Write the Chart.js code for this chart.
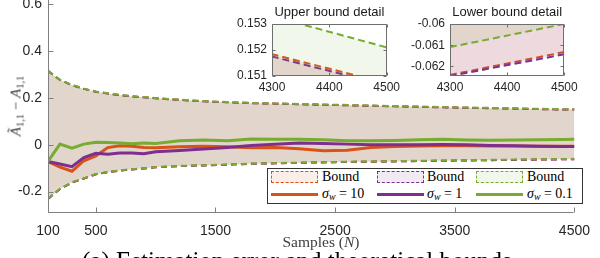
<!DOCTYPE html>
<html>
<head>
<meta charset="utf-8">
<script src="https://cdn.jsdelivr.net/npm/chart.js@4.4.1/dist/chart.umd.min.js"></script>
<style>
  html, body { margin: 0; padding: 0; background: #fff; }
  #wrap { position: relative; width: 600px; height: 258px; overflow: hidden; }
  canvas { position: absolute; }
  #main { left: 0; top: -10px; }
  #in1 { left: 220px; top: 0; }
  #in2 { left: 398px; top: 0; }
  .lab { position: absolute; white-space: nowrap; font-family: 'Liberation Serif', serif; color: #404040; }
  #ylab { left: 16px; top: 106px; font-size: 15px; transform: translate(-50%, -50%) rotate(-90deg); }
  #xlab { left: 321px; top: 242px; font-size: 15.5px; transform: translate(-50%, -50%); }
  #caption { left: 82px; top: 248px; font-size: 25px; line-height: 25px; color: #000; }
  sub { font-size: 70%; vertical-align: -0.25em; line-height: 0; }
  #legend { position: absolute; left: 267px; top: 168px; width: 316px; height: 36px; box-sizing: border-box;
            border: 1px solid #333; background: #fff; font-family: 'Liberation Serif', serif; font-size: 14px; color: #000; }
  .patch { position: absolute; top: 2px; width: 47px; height: 12px; box-sizing: border-box; border-width: 1.5px; border-style: dashed; }
  .ln { position: absolute; top: 23.5px; width: 47px; height: 3px; }
  .txt { position: absolute; line-height: 16px; white-space: nowrap; }
</style>
</head>
<body>
<div id="wrap">
  <canvas id="main" width="600" height="268"></canvas>
  <canvas id="in1" width="186" height="100"></canvas>
  <canvas id="in2" width="186" height="100"></canvas>
  <div class="lab" id="ylab"><i>Ã</i><sub>1,1</sub> − <i>A</i><sub>1,1</sub></div>
  <div class="lab" id="xlab">Samples (<i>N</i>)</div>
  <div class="lab" id="caption">(a) Estimation error and theoretical bounds</div>
  <div id="legend">
    <div class="patch" style="left:3px;border-color:#D95319;background:rgba(217,83,25,0.1)"></div>
    <div class="txt" style="left:54px;top:0px">Bound</div>
    <div class="ln" style="left:3px;background:#D95319"></div>
    <div class="txt" style="left:54px;top:17px"><i>σ</i><sub><i>w</i></sub> = 10</div>
    <div class="patch" style="left:109px;border-color:#7E2F8E;background:rgba(126,47,142,0.1)"></div>
    <div class="txt" style="left:159px;top:0px">Bound</div>
    <div class="ln" style="left:109px;background:#7E2F8E"></div>
    <div class="txt" style="left:159px;top:17px"><i>σ</i><sub><i>w</i></sub> = 1</div>
    <div class="patch" style="left:208px;border-color:#77AC30;background:rgba(119,172,48,0.1)"></div>
    <div class="txt" style="left:259px;top:0px">Bound</div>
    <div class="ln" style="left:208px;background:#77AC30"></div>
    <div class="txt" style="left:259px;top:17px"><i>σ</i><sub><i>w</i></sub> = 0.1</div>
  </div>
</div>
<script>
// bound curves
const boundN = [100, 200, 300, 400, 500, 600, 700, 800, 900, 1000, 1200, 1400, 1600, 1800, 2000, 2500, 3000, 3500, 4000, 4300, 4500];
const upperOrange = [0.316, 0.277, 0.255, 0.239, 0.227, 0.219, 0.212, 0.207, 0.203, 0.199, 0.192, 0.186, 0.182, 0.178, 0.176, 0.170, 0.1645, 0.1592, 0.1547, 0.15184, 0.15072];
const lowerOrange = [-0.231, -0.189, -0.161, -0.144, -0.126, -0.117, -0.110, -0.105, -0.101, -0.096, -0.091, -0.088, -0.085, -0.081, -0.079, -0.074, -0.0707, -0.0673, -0.0643, -0.0624, -0.06132];
const upperPurple = [0.316, 0.277, 0.255, 0.239, 0.227, 0.219, 0.212, 0.207, 0.203, 0.199, 0.192, 0.186, 0.182, 0.178, 0.176, 0.170, 0.1644, 0.1591, 0.1546, 0.15175, 0.15064];
const lowerPurple = [-0.231, -0.189, -0.161, -0.144, -0.126, -0.117, -0.110, -0.105, -0.101, -0.096, -0.091, -0.088, -0.085, -0.081, -0.079, -0.074, -0.0708, -0.0674, -0.0644, -0.06245, -0.06143];
const upperGreen = [0.316, 0.278, 0.256, 0.240, 0.228, 0.220, 0.213, 0.208, 0.204, 0.200, 0.193, 0.187, 0.183, 0.179, 0.177, 0.1715, 0.1658, 0.1605, 0.1560, 0.1533, 0.1521];
const lowerGreen = [-0.230, -0.188, -0.160, -0.143, -0.125, -0.116, -0.109, -0.104, -0.100, -0.095, -0.090, -0.087, -0.084, -0.080, -0.078, -0.073, -0.0695, -0.0660, -0.0630, -0.06109, -0.0600];

// estimation error
const estN = [100, 200, 300, 400, 500, 600, 700, 800, 900, 1000, 1200, 1400, 1600, 1800, 2000, 2200, 2400, 2600, 2800, 3000, 3200, 3400, 3600, 3800, 4000, 4200, 4400, 4500];
const estOrange = [-0.072, -0.095, -0.113, -0.068, -0.047, -0.012, -0.004, -0.006, -0.011, -0.013, -0.008, -0.006, -0.008, -0.013, -0.011, -0.017, -0.025, -0.023, -0.011, -0.007, -0.005, -0.004, -0.004, -0.005, -0.005, -0.006, -0.006, -0.006];
const estPurple = [-0.071, -0.082, -0.093, -0.054, -0.036, -0.040, -0.035, -0.035, -0.038, -0.030, -0.024, -0.018, -0.011, -0.003, 0.002, 0.008, 0.006, 0.003, 0.000, 0.000, 0.000, 0.001, 0.000, -0.003, -0.004, -0.006, -0.007, -0.007];
const estGreen = [-0.071, 0.003, -0.014, 0.003, 0.011, 0.010, 0.008, 0.005, 0.008, 0.006, 0.017, 0.021, 0.017, 0.025, 0.024, 0.024, 0.022, 0.017, 0.017, 0.019, 0.022, 0.024, 0.021, 0.020, 0.021, 0.022, 0.023, 0.024];

const mainXTicks = [100, 500, 1500, 2500, 3500, 4500];
const mainYTicks = [0.6, 0.4, 0.2, 0, -0.2];
const insetXTicks = [4300, 4400, 4500];
const upperYTicks = [0.151, 0.152, 0.153];
const lowerYTicks = [-0.062, -0.061, -0.06];

const ORANGE = '#D95319', PURPLE = '#7E2F8E', GREEN = '#77AC30';
const SANS = "'Liberation Sans', Arial, sans-serif";
const TICK = '#262626';

function pts(xs, ys) {
    return xs.map((x, i) => ({ x: x, y: ys[i] }));
}

// three shaded bound bands, orange drawn first, green last
function boundSets(dash, width) {
    const list = [[upperOrange, lowerOrange, ORANGE], [upperPurple, lowerPurple, PURPLE], [upperGreen, lowerGreen, GREEN]];
    const out = [];
    list.forEach(([u, l, c], k) => {
        out.push({ data: pts(boundN, u), borderColor: c, borderDash: dash, borderWidth: width,
                   fill: '+1', backgroundColor: c + '1A', pointRadius: 0, order: 20 - 2 * k });
        out.push({ data: pts(boundN, l), borderColor: c, borderDash: dash, borderWidth: width,
                   fill: false, pointRadius: 0, order: 19 - 2 * k });
    });
    return out;
}

// MATLAB style axes: lines + inward ticks
const axesIn = {
    id: 'axesIn',
    afterDatasetsDraw(chart, args, o) {
        const { ctx, chartArea: a, scales } = chart;
        const L = Math.round(a.left) + 0.5, R = Math.round(a.right) - 0.5;
        const T = Math.round(a.top) + 0.5, B = Math.round(a.bottom) - 0.5;
        ctx.save();
        ctx.strokeStyle = o.color;
        ctx.lineWidth = 1;
        ctx.beginPath();
        ctx.moveTo(L, o.box ? T : 0);
        ctx.lineTo(L, B);
        ctx.lineTo(R, B);
        if (o.box) { ctx.lineTo(R, T); ctx.lineTo(L, T); }
        scales.x.ticks.forEach(t => {
            const p = Math.round(scales.x.getPixelForValue(t.value)) + 0.5;
            ctx.moveTo(p, B); ctx.lineTo(p, B - o.len);
            if (o.box) { ctx.moveTo(p, T); ctx.lineTo(p, T + o.len); }
        });
        scales.y.ticks.forEach(t => {
            const p = Math.round(scales.y.getPixelForValue(t.value)) + 0.5;
            ctx.moveTo(L, p); ctx.lineTo(L + o.len, p);
            if (o.box) { ctx.moveTo(R, p); ctx.lineTo(R - o.len, p); }
        });
        ctx.stroke();
        ctx.restore();
    }
};

function axis(min, max, ticks, size, pad, fit, isX) {
    return {
        type: 'linear', min: min, max: max,
        grid: { display: false, drawTicks: false },
        border: { display: false },
        ticks: { autoSkip: false, maxRotation: 0, padding: pad, color: TICK,
                 font: { family: SANS, size: size },
                 callback: v => String(Math.round(v * 1000) / 1000) },
        afterBuildTicks: s => { s.ticks = ticks.map(v => ({ value: v })); },
        afterFit: s => { if (isX) s.height = fit; else s.width = fit; }
    };
}

Chart.defaults.elements.line.tension = 0;

new Chart(document.getElementById('main'), {
    type: 'line',
    data: {
        datasets: boundSets([6, 4], 2).concat([
            { data: pts(estN, estOrange), borderColor: ORANGE, borderWidth: 3, fill: false, pointRadius: 0, order: 3 },
            { data: pts(estN, estPurple), borderColor: PURPLE, borderWidth: 3, fill: false, pointRadius: 0, order: 2 },
            { data: pts(estN, estGreen), borderColor: GREEN, borderWidth: 3, fill: false, pointRadius: 0, order: 1 }
        ])
    },
    options: {
        responsive: false, animation: false, events: [],
        layout: { padding: { top: 12.5, right: 16.4, left: 0, bottom: 0 } },
        plugins: { legend: { display: false }, tooltip: { enabled: false },
                   axesIn: { len: 5, color: '#808080', box: false } },
        scales: {
            x: axis(100, 4500, mainXTicks, 14, 10, 45.3, true),
            y: axis(-0.29, 0.6, mainYTicks, 14, 6, 48, false)
        }
    },
    plugins: [axesIn]
});

function inset(id, title, yMin, yMax, yTicks, padRight) {
    new Chart(document.getElementById(id), {
        type: 'line',
        data: { datasets: boundSets([7, 4], 2) },
        options: {
            responsive: false, animation: false, events: [],
            layout: { padding: { top: 0, right: padRight, left: 0, bottom: 0 } },
            plugins: {
                legend: { display: false }, tooltip: { enabled: false },
                title: { display: true, text: title, fullSize: false, color: '#1a1a1a',
                         font: { family: SANS, size: 13, weight: 'normal' }, padding: { top: 5, bottom: 3.4 } },
                axesIn: { len: 3, color: '#6e6e6e', box: true }
            },
            scales: {
                x: axis(4300, 4500, insetXTicks, 12, 4, 24, true),
                y: axis(yMin, yMax, yTicks, 12, 5, 52, false)
            }
        },
        plugins: [axesIn]
    });
}

inset('in1', 'Upper bound detail', 0.151, 0.153, upperYTicks, 19.3);
inset('in2', 'Lower bound detail', -0.06245, -0.06, lowerYTicks, 19.7);
</script>
</body>
</html>
